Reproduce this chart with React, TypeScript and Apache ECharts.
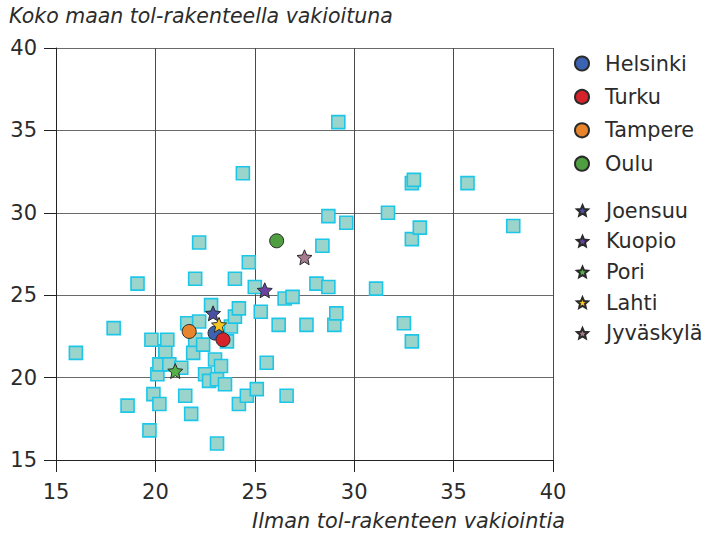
import React, { useEffect, useRef } from "react";
import * as echarts from "echarts";

// Background municipalities: [Ilman tol-rakenteen vakiointia, Koko maan tol-rakenteella vakioituna]
const otherPoints: [number, number][] = [
  [16.0, 21.5], [17.9, 23.0], [18.6, 18.3], [19.1, 25.7], [19.7, 16.8],
  [19.8, 22.3], [19.9, 19.0], [20.1, 20.2], [20.2, 20.8], [20.2, 18.4],
  [20.5, 21.6], [20.6, 22.3], [20.7, 20.8], [21.3, 20.6], [21.5, 18.9],
  [21.6, 23.3], [21.8, 17.8], [21.9, 21.5], [22.0, 22.3], [22.0, 26.0],
  [22.2, 28.2], [22.2, 23.4], [22.4, 22.0], [22.5, 20.2], [22.7, 19.8],
  [22.8, 24.4], [23.0, 21.1], [23.1, 19.9], [23.1, 16.0], [23.3, 20.7],
  [23.5, 19.6], [23.6, 22.2], [23.8, 23.1], [24.0, 23.7], [24.0, 26.0],
  [24.2, 24.2], [24.2, 18.4], [24.4, 32.4], [24.6, 18.9], [24.7, 27.0],
  [25.0, 25.5], [25.1, 19.3], [25.3, 24.0], [25.6, 20.9], [26.2, 23.2],
  [26.5, 24.8], [26.9, 24.9], [26.6, 18.9], [27.6, 23.2], [28.1, 25.7],
  [28.4, 28.0], [28.7, 25.5], [28.7, 29.8], [29.0, 23.2], [29.1, 23.9],
  [29.2, 35.5], [29.6, 29.4], [31.1, 25.4], [31.7, 30.0], [32.5, 23.3],
  [32.9, 22.2], [32.9, 28.4], [32.9, 31.8], [33.0, 32.0], [33.3, 29.1],
  [35.7, 31.8], [38.0, 29.2],
];

const circleCities = ["Helsinki", "Turku", "Tampere", "Oulu"];
const circleValues: [number, number][] = [
  [23.0, 22.7], [23.4, 22.3], [21.7, 22.8], [26.1, 28.3],
];
const circleColors = ["#3c62b2", "#d5222b", "#e8842b", "#4f9e41"];

const starCities = ["Joensuu", "Kuopio", "Pori", "Lahti", "Jyväskylä"];
const starValues: [number, number][] = [
  [22.9, 23.9], [25.5, 25.3], [21.0, 20.4], [23.2, 23.2], [27.5, 27.3],
];
const starColors = ["#4b4fa3", "#6b42a3", "#55b04a", "#f7c520", "#a67b8f"];

const xTicks = { min: 15, max: 40, interval: 5 };
const yTicks = { min: 15, max: 40, interval: 5 };

function starPath(): string {
  const pts: string[] = [];
  for (let k = 0; k < 10; k++) {
    const r = k % 2 === 0 ? 50 : 23;
    const a = ((-90 + k * 36) * Math.PI) / 180;
    pts.push(`${(50 + r * Math.cos(a)).toFixed(2)} ${(50 + r * Math.sin(a)).toFixed(2)}`);
  }
  return "path://M" + pts.join(" L") + " Z";
}

const FONT = "DejaVu Sans";
const TEXT = "#2b2b2b";

export default function App() {
  const ref = useRef<HTMLDivElement>(null);
  useEffect(() => {
    if (!ref.current) return;
    const chart = echarts.init(ref.current, undefined, { renderer: "svg" });
    const star = starPath();
    const series: any[] = [
      {
        type: "scatter",
        name: "muut",
        data: otherPoints,
        symbol: "rect",
        symbolSize: 13,
        itemStyle: { color: "#9bd4cb", borderColor: "#1cc6e8", borderWidth: 1.6, opacity: 1 },
        z: 2,
        silent: true,
      },
      ...circleCities.map((name, i) => ({
        type: "scatter",
        name,
        data: [circleValues[i]],
        symbol: "circle",
        symbolSize: 14,
        itemStyle: { color: circleColors[i], borderColor: "#2a2a2a", borderWidth: 1, opacity: 1 },
        z: 4,
      })),
      ...starCities.map((name, i) => ({
        type: "scatter",
        name,
        data: [starValues[i]],
        symbol: star,
        symbolSize: 15,
        itemStyle: { color: starColors[i], borderColor: "#2a2a2a", borderWidth: 1, opacity: 1 },
        z: 5,
      })),
    ];
    chart.setOption({
      animation: false,
      backgroundColor: "#ffffff",
      title: [
        {
          text: "Koko maan tol-rakenteella vakioituna",
          left: 9,
          top: 6,
          padding: 0,
          textStyle: { fontStyle: "italic", fontWeight: "normal", fontSize: 20.5, color: TEXT, fontFamily: FONT },
        },
        {
          text: "Ilman tol-rakenteen vakiointia",
          right: 141,
          top: 510,
          padding: 0,
          textStyle: { fontStyle: "italic", fontWeight: "normal", fontSize: 20.8, color: TEXT, fontFamily: FONT },
        },
      ],
      legend: [
        {
          data: circleCities,
          orient: "vertical",
          left: 574,
          top: 53,
          padding: 0,
          itemWidth: 14,
          itemHeight: 14,
          itemGap: 12.4,
          selectedMode: false,
          textStyle: { fontSize: 20.8, color: TEXT, fontFamily: FONT, lineHeight: 20, padding: [0, 0, 0, 11] },
        },
        {
          data: starCities,
          orient: "vertical",
          left: 576,
          top: 200,
          padding: 0,
          itemWidth: 11,
          itemHeight: 11,
          itemGap: 9.7,
          selectedMode: false,
          textStyle: { fontSize: 20.8, color: TEXT, fontFamily: FONT, lineHeight: 20, padding: [0, 0, 0, 13] },
        },
      ],
      grid: { left: 56, right: 153, top: 48, bottom: 73, containLabel: false, outerBoundsMode: "none" },
      xAxis: {
        type: "value",
        min: xTicks.min,
        max: xTicks.max,
        interval: xTicks.interval,
        axisLine: { show: true, onZero: false, lineStyle: { color: "#222", width: 1 } },
        axisTick: { show: true, length: 12, inside: false, lineStyle: { color: "#222" } },
        axisLabel: { fontSize: 21, color: TEXT, fontFamily: FONT, margin: 21 },
        splitLine: { show: true, lineStyle: { color: "#4a4a4a", width: 1 } },
      },
      yAxis: {
        type: "value",
        min: yTicks.min,
        max: yTicks.max,
        interval: yTicks.interval,
        axisLine: { show: true, onZero: false, lineStyle: { color: "#222", width: 1 } },
        axisTick: { show: true, length: 12, inside: false, lineStyle: { color: "#222" } },
        axisLabel: { fontSize: 21, color: TEXT, fontFamily: FONT, margin: 19 },
        splitLine: { show: true, lineStyle: { color: "#6a6a6a", width: 1 } },
      },
      series,
    });
    return () => chart.dispose();
  }, []);
  return (
    <div
      ref={ref}
      style={{ position: "fixed", left: 0, top: 0, width: 706, height: 533, background: "#fff" }}
    />
  );
}
